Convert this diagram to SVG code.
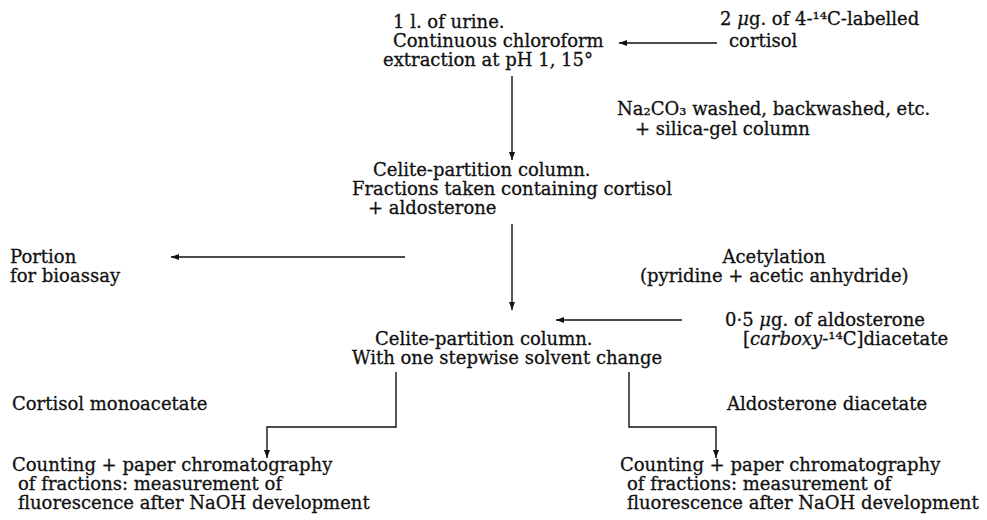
<svg xmlns="http://www.w3.org/2000/svg" width="987" height="520" viewBox="0 0 987 520">
<style>
text{font-family:"DejaVu Serif","Liberation Serif",serif;font-size:18px;fill:#111;stroke:#111;stroke-width:0.3}
.it{font-style:italic}
.ln{stroke:#111;stroke-width:1.4;fill:none}
</style>
<defs>
<marker id="ah" markerUnits="userSpaceOnUse" markerWidth="9" markerHeight="7" refX="8" refY="3.5" orient="auto">
<path d="M0,0.5 L8,3.5 L0,6.5 z" fill="#111"/>
</marker>
</defs>
<rect width="987" height="520" fill="#fff"/>
<g id="connectors">
<line class="ln" x1="717" y1="43" x2="619" y2="43" marker-end="url(#ah)"/>
<line class="ln" x1="512" y1="76" x2="512" y2="160" marker-end="url(#ah)"/>
<line class="ln" x1="512" y1="224" x2="512" y2="310" marker-end="url(#ah)"/>
<line class="ln" x1="405" y1="257" x2="171" y2="257" marker-end="url(#ah)"/>
<line class="ln" x1="682" y1="320" x2="556" y2="320" marker-end="url(#ah)"/>
<polyline class="ln" points="396,372 396,427 267,427 267,458" marker-end="url(#ah)"/>
<polyline class="ln" points="629,372 629,427 716,427 716,458" marker-end="url(#ah)"/>
</g>
<g id="urine">
<text x="393" y="28">1 l. of urine.</text>
<text x="393" y="47">Continuous chloroform</text>
<text x="383" y="66">extraction at pH 1, 15°</text>
</g>
<g id="labelled-cortisol">
<text x="720" y="25">2 <tspan class="it">μ</tspan>g. of 4-¹⁴C-labelled</text>
<text x="729" y="47">cortisol</text>
</g>
<g id="wash">
<text x="617" y="115">Na₂CO₃ washed, backwashed, etc.</text>
<text x="635" y="135">+ silica-gel column</text>
</g>
<g id="celite1">
<text x="373" y="176">Celite-partition column.</text>
<text x="352" y="195">Fractions taken containing cortisol</text>
<text x="368" y="214">+ aldosterone</text>
</g>
<g id="bioassay">
<text x="10" y="263">Portion</text>
<text x="10" y="282">for bioassay</text>
</g>
<g id="acetylation">
<text x="774" y="263" text-anchor="middle">Acetylation</text>
<text x="640" y="282">(pyridine + acetic anhydride)</text>
</g>
<g id="aldo-label">
<text x="725" y="326">0·5 <tspan class="it">μ</tspan>g. of aldosterone</text>
<text x="743" y="345">[<tspan class="it">carboxy</tspan>-¹⁴C]diacetate</text>
</g>
<g id="celite2">
<text x="375" y="345">Celite-partition column.</text>
<text x="352" y="364">With one stepwise solvent change</text>
</g>
<g id="cortisol-mono">
<text x="12" y="410">Cortisol monoacetate</text>
</g>
<g id="aldo-di">
<text x="727" y="410">Aldosterone diacetate</text>
</g>
<g id="counting-left">
<text x="12" y="471">Counting + paper chromatography</text>
<text x="18" y="490">of fractions: measurement of</text>
<text x="18" y="509">fluorescence after NaOH development</text>
</g>
<g id="counting-right">
<text x="620" y="471">Counting + paper chromatography</text>
<text x="627" y="490">of fractions: measurement of</text>
<text x="627" y="509">fluorescence after NaOH development</text>
</g>
</svg>
